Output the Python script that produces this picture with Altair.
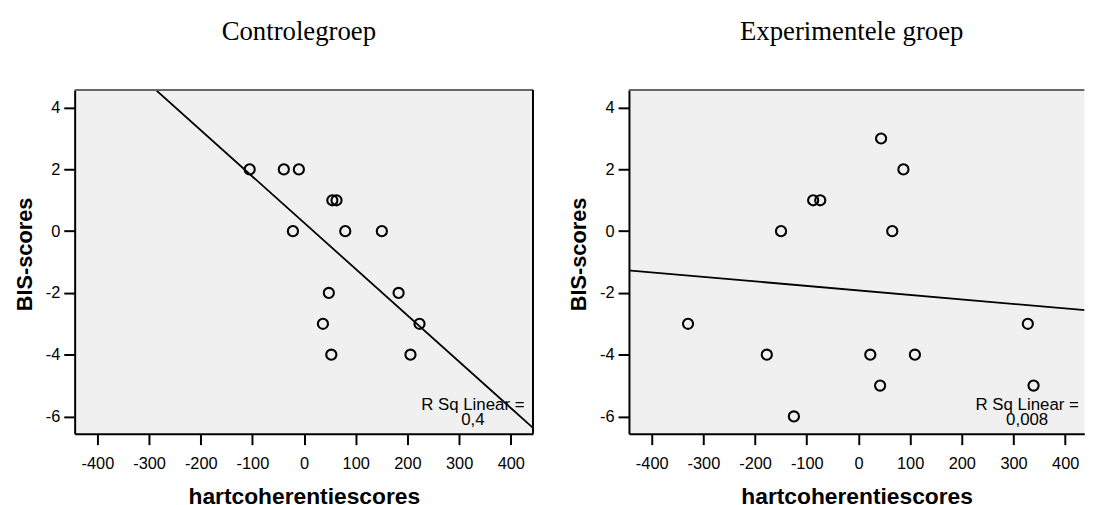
import altair as alt
import pandas as pd

# ---- data ----
ctrl_x = [-105.3, -39.2, -10.1, 54.7, 62.8, -21.6, 79.7, 150.5, 47.9, 182.9, 36.5, 223.4, 52.7, 205.9]
ctrl_y = [2, 2, 2, 1, 1, 0, 0, 0, -2, -2, -3, -3, -4, -4]

exp_x = [43.8, 87.0, -87.6, -73.9, -149.8, 65.4, -329.7, 327.7, -177.3, 22.9, 109.2, 41.9, 338.8, -124.9]
exp_y = [3, 2, 1, 1, 0, 0, -3, -3, -4, -4, -4, -5, -5, -6]

panel_titles = ["Controlegroep", "Experimentele groep"]
rsq_labels = ["0,4", "0,008"]
x_ticks = [-400, -300, -200, -100, 0, 100, 200, 300, 400]
y_ticks = [-6, -4, -2, 0, 2, 4]
x_title = "hartcoherentiescores"
y_title = "BIS-scores"

Y_DOMAIN = [-6.56, 4.57]
PLOT_H = 347
HYPHEN_LABEL = "replace(datum.label, '\u2212', '-')"


def panel(xs, ys, title, rsq, width, xdom, right_border):
    df = pd.DataFrame({"x": xs, "y": ys})
    xscale = alt.Scale(domain=xdom, nice=False, zero=False)
    yscale = alt.Scale(domain=Y_DOMAIN, nice=False, zero=False)
    xenc = alt.X("x:Q", scale=xscale,
                 axis=alt.Axis(values=x_ticks, title=x_title, labelExpr=HYPHEN_LABEL))
    yenc = alt.Y("y:Q", scale=yscale,
                 axis=alt.Axis(values=y_ticks, title=y_title, titleY=165.5,
                               labelExpr=HYPHEN_LABEL))

    base = alt.Chart(df)
    pts = base.mark_point(shape="circle", filled=False, stroke="black",
                          strokeWidth=2.1, size=105, opacity=1).encode(x=xenc, y=yenc)
    line = base.transform_regression("x", "y", extent=[-460, 460]).mark_line(
        color="black", strokeWidth=1.8, clip=True).encode(x="x:Q", y="y:Q")

    tdf = pd.DataFrame({"t": ["R Sq Linear =\n" + rsq]})
    txt = alt.Chart(tdf).mark_text(lineBreak="\n", align="center", baseline="alphabetic",
                                   fontSize=17, lineHeight=15.5, font="Liberation Sans",
                                   color="black").encode(
        text="t:N", x=alt.value(402), y=alt.value(322.8))

    rdf = pd.DataFrame({"a": [0]})
    top = alt.Chart(rdf).mark_rule(color="#666666", strokeWidth=2).encode(
        x=alt.value(0), x2=alt.value(width), y=alt.value(0))
    layers = [txt, pts, line, top]
    if right_border:
        rb = alt.Chart(rdf).mark_rule(color="black", strokeWidth=2).encode(
            x=alt.value(width), y=alt.value(0), y2=alt.value(PLOT_H))
        layers.append(rb)

    return alt.layer(*layers).properties(
        width=width, height=PLOT_H,
        title=alt.TitleParams(title, font="Liberation Serif", fontSize=27,
                              fontWeight="normal", color="black", anchor="middle",
                              frame="group", offset=43.1, dx=-5),
        view=alt.ViewBackground(fill="#f0f0f0", strokeWidth=0),
    )


left = panel(ctrl_x, ctrl_y, panel_titles[0], rsq_labels[0], 462.7, [-444, 443], True)
right = panel(exp_x, exp_y, panel_titles[1], rsq_labels[1], 459.7, [-444, 437], False)

chart = alt.hconcat(left, right, spacing=96.6, bounds="flush").properties(
    padding={"left": 5.3, "top": 7.4, "right": 0, "bottom": 0},
    background="white",
).configure_axis(
    grid=False,
    domainColor="black", domainWidth=2,
    tickColor="black", tickWidth=2,
    labelFont="Liberation Sans", labelFontSize=16.5, labelColor="black",
    titleFont="Liberation Sans", titleFontWeight="bold", titleColor="black",
).configure_axisX(
    tickSize=11, labelPadding=10.8, titlePadding=14.5, titleFontSize=23,
).configure_axisY(
    tickSize=11, labelPadding=4, titlePadding=9, titleFontSize=22,
)

chart.save("out.html", embed_options={"renderer": "svg", "actions": False})
